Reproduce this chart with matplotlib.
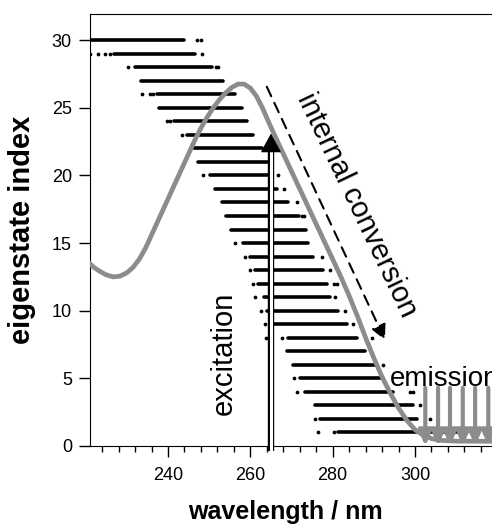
import matplotlib
matplotlib.use("Agg")
import matplotlib.pyplot as plt
from matplotlib.ticker import MultipleLocator

plt.rcParams['font.family'] = ['Liberation Sans', 'DejaVu Sans']

# Eigenstate rows: dense band start/end (nm) and isolated dots
rows = list(range(30, 0, -1))
band_start = [220.5, 227.0, 232.0, 233.4, 237.3, 237.8, 241.5, 244.5, 246.2, 247.4,
              250.2, 251.4, 253.0, 254.1, 255.3, 258.3, 259.8, 261.1, 261.9, 263.2,
              264.0, 265.6, 269.2, 268.8, 270.3, 272.1, 273.3, 275.7, 276.9, 281.4]
band_end = [244.0, 246.6, 250.6, 253.4, 256.3, 257.9, 259.1, 260.7, 262.8, 265.2,
            264.8, 266.4, 269.2, 271.7, 273.5, 273.9, 275.3, 277.7, 278.6, 279.4,
            281.4, 283.4, 285.8, 287.9, 290.7, 292.3, 294.7, 299.6, 300.4, 312.6]
extra_dots = [
    [247.0, 248.0],
    [221.0, 222.9, 224.7, 225.9, 248.2],
    [230.2, 251.6, 252.1],
    [],
    [233.6, 235.6, 236.4],
    [],
    [239.7, 240.5],
    [243.3],
    [],
    [],
    [248.6, 266.8],
    [268.2],
    [271.3],
    [272.5, 273.0],
    [],
    [256.3],
    [258.7, 277.3],
    [259.9, 279.4],
    [260.7, 280.2, 281.0],
    [261.1, 280.6],
    [262.5, 283.0],
    [263.6, 285.0],
    [263.8, 267.6, 289.5],
    [],
    [292.3],
    [270.6],
    [271.3, 298.8, 299.6],
    [301.1],
    [275.7, 303.7],
    [276.5, 280.2, 314.1, 317.0],
]

# Absorption spectrum (grey curve)
spec_wl = [220.6, 222.0, 223.5, 225.0, 226.7, 228.3, 230.0, 231.5, 233.0, 234.5,
           236.0, 237.5, 239.0, 240.5, 242.0, 243.5, 245.0, 246.5, 248.0, 249.5,
           251.0, 252.5, 254.0, 255.5, 257.0, 258.5, 260.0, 261.5, 263.0, 264.5,
           266.0, 268.0, 270.0, 272.0, 274.0, 276.0, 278.0, 280.0, 282.0, 284.0,
           286.0, 288.0, 290.0, 292.0, 294.0, 296.0, 298.0, 300.0, 302.0, 304.0,
           306.0, 310.0, 319.0]
spec_val = [13.6, 13.2, 12.9, 12.65, 12.5, 12.55, 12.8, 13.2, 13.8, 14.6,
            15.6, 16.6, 17.6, 18.6, 19.6, 20.6, 21.6, 22.6, 23.5, 24.3,
            25.0, 25.6, 26.1, 26.5, 26.75, 26.75, 26.45, 25.85, 24.95, 23.9,
            22.9, 21.6, 20.3, 19.0, 17.7, 16.4, 15.1, 13.8, 12.5, 11.1,
            9.6, 8.0, 6.5, 5.1, 3.9, 2.8, 1.9, 1.2, 0.8, 0.55,
            0.42, 0.36, 0.35]

# Emission arrow positions (nm)
emission_wl = [302.5, 305.6, 308.5, 311.6, 314.6, 317.8]
emission_top = 4.3

# Excitation arrow
exc_wl = 265.0
exc_top = 23.1

# Internal conversion arrow
ic_start = (264.0, 26.55)
ic_end = (292.7, 7.84)

grey = '#8c8c8c'

fig = plt.figure(figsize=(4.92, 5.27), dpi=100)
ax = fig.add_axes([90 / 492, 1 - 446 / 527, 402 / 492, 432 / 527])

for r, s, e, dots in zip(rows, band_start, band_end, extra_dots):
    ax.hlines(r, s, e, color='black', lw=2.6, capstyle='round')
    if dots:
        ax.plot(dots, [r] * len(dots), 'o', color='black', ms=2.7, mew=0)

ax.plot(spec_wl, spec_val, color=grey, lw=3.4, solid_joinstyle='round', zorder=3)

# excitation arrow: double-line shaft with solid head
ax.plot([exc_wl, exc_wl], [-0.35, exc_top - 1.0], color='black', lw=4.6,
        solid_capstyle='butt', clip_on=False, zorder=4)
ax.plot([exc_wl, exc_wl], [-0.35, exc_top - 1.0], color='white', lw=2.2,
        solid_capstyle='butt', clip_on=False, zorder=5)
ax.annotate('', xy=(exc_wl, exc_top), xytext=(exc_wl, exc_top - 1.3),
            arrowprops=dict(arrowstyle='-|>,head_width=0.65,head_length=1.2',
                            color='black', lw=1.0, shrinkA=0, shrinkB=0),
            zorder=6)

# internal conversion dashed arrow
ax.annotate('', xy=ic_end, xytext=ic_start,
            arrowprops=dict(arrowstyle='-|>,head_width=0.45,head_length=0.9',
                            color='black', lw=1.5, ls=(0, (5, 3.5)),
                            shrinkA=0, shrinkB=0),
            zorder=4)

# emission arrows
for x in emission_wl:
    ax.annotate('', xy=(x, 0), xytext=(x, emission_top),
                arrowprops=dict(arrowstyle='-|>,head_width=0.4,head_length=0.9',
                                color=grey, lw=3.0, shrinkA=0, shrinkB=0),
                annotation_clip=False, zorder=4)

ax.text(285.9, 17.8, 'internal conversion', rotation=-64.5, rotation_mode='anchor',
        ha='center', va='center', fontsize=21)
ax.text(253.6, 6.87, 'excitation', rotation=90, rotation_mode='anchor',
        ha='center', va='center', fontsize=21)
ax.text(294.0, 4.43, 'emission', ha='left', va='baseline', fontsize=20, clip_on=False)

ax.set_xlim(221.05, 318.7)
ax.set_ylim(0, 31.93)
ax.spines['right'].set_visible(False)
ax.xaxis.set_major_locator(MultipleLocator(20))
ax.xaxis.set_minor_locator(MultipleLocator(4))
ax.yaxis.set_major_locator(MultipleLocator(5))
ax.tick_params(axis='both', which='major', direction='out', length=8, width=1.0,
               labelsize=13)
ax.tick_params(axis='x', which='minor', direction='out', length=4, width=1.0)
ax.tick_params(axis='x', which='major', pad=7)
ax.tick_params(axis='y', which='major', pad=5)
ax.tick_params(right=False, top=False, which='both')

ax.set_xlabel('wavelength / nm', fontsize=18, fontweight='bold')
ax.set_ylabel('eigenstate index', fontsize=21, fontweight='bold')
ax.xaxis.set_label_coords(0.487, -0.125)
ax.yaxis.set_label_coords(-0.135, 0.50)

fig.savefig('out.png', dpi=100)
